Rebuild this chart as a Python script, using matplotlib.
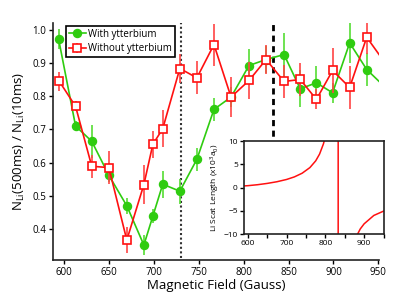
import matplotlib
matplotlib.use("Agg")
import matplotlib.pyplot as plt
from matplotlib.ticker import MultipleLocator

plt.rcParams["font.family"] = ["Open Sans", "DejaVu Sans"]
plt.rcParams["mathtext.fontset"] = "custom"
plt.rcParams["mathtext.rm"] = "Open Sans"
plt.rcParams["mathtext.it"] = "Open Sans"

# With ytterbium (green circles); last point lies just past the axis edge
field_yb = [594, 613, 631, 650, 670, 689, 699, 710, 729, 748, 767, 786, 806,
            825, 845, 863, 881, 899, 918, 937, 960]
ratio_yb = [0.973, 0.710, 0.664, 0.562, 0.470, 0.352, 0.439, 0.535, 0.514,
            0.610, 0.760, 0.797, 0.892, 0.910, 0.925, 0.822, 0.840, 0.810,
            0.960, 0.880, 0.820]
err_yb = [0.030, 0.015, 0.050, 0.020, 0.025, 0.030, 0.020, 0.040, 0.038,
          0.035, 0.035, 0.030, 0.050, 0.040, 0.065, 0.055, 0.050, 0.030,
          0.060, 0.050, 0.0]

# Without ytterbium (red open squares)
field_no = [595, 613, 631, 650, 670, 689, 699, 710, 729, 748, 767, 786, 806,
            825, 845, 863, 881, 899, 918, 937, 960]
ratio_no = [0.844, 0.769, 0.589, 0.585, 0.367, 0.534, 0.655, 0.702, 0.883,
            0.855, 0.955, 0.797, 0.847, 0.910, 0.844, 0.850, 0.790, 0.877,
            0.826, 0.977, 0.890]
err_no = [0.028, 0.015, 0.035, 0.050, 0.040, 0.058, 0.040, 0.055, 0.045,
          0.050, 0.063, 0.060, 0.055, 0.045, 0.050, 0.050, 0.030, 0.068,
          0.065, 0.050, 0.0]

# Reference field markers
b_dotted = 730
b_dashed = 833

# Inset: Li scattering length (x10^3 a0) vs field;
# the curve runs off-scale through the pole at 833 G
inset_b = [590, 600, 625, 650, 675, 700, 720, 740, 760, 775, 785, 795,
           800, 810, 833, 833, 880, 885, 890, 900, 925, 952]
inset_a = [0.35, 0.40, 0.61, 0.89, 1.25, 1.74, 2.29, 3.08, 4.29, 5.74,
           7.20, 9.40, 11.0, 16.2, 60.0, -60.0, -10.6, -9.7, -8.9, -7.8,
           -6.0, -5.0]

green = "#2fcc10"
red = "#ff1010"

fig = plt.figure(figsize=(4.15, 3.02), dpi=100)
ax = fig.add_axes([0.128, 0.139, 0.786, 0.785])

ax.axvline(b_dotted, ymin=0.01, ymax=1.0, color="#333333", lw=1.5,
           linestyle=(0, (1, 1.2)), zorder=1)
ax.axvline(b_dashed, ymin=0.3, ymax=1.0, color="black", lw=2.0,
           linestyle=(0, (2.2, 1.6)), zorder=1)

ax.errorbar(field_yb, ratio_yb, yerr=err_yb, color=green, ecolor="#55dd33",
            elinewidth=1.2, lw=1.2, marker="o", ms=5.8, mfc=green, mec=green,
            capsize=0, label="With ytterbium", zorder=3)
ax.errorbar(field_no, ratio_no, yerr=err_no, color=red, ecolor="#ff4444",
            elinewidth=1.2, lw=1.2, marker="s", ms=5.2, mfc="white", mec=red,
            mew=1.2, capsize=0, label="Without ytterbium", zorder=4)

ax.set_xlim(588, 951)
ax.set_ylim(0.307, 1.02)
ax.xaxis.set_major_locator(MultipleLocator(50))
ax.yaxis.set_major_locator(MultipleLocator(0.1))
ax.spines["top"].set_visible(False)
ax.spines["right"].set_visible(False)
for s in ("left", "bottom"):
    ax.spines[s].set_linewidth(1.2)
    ax.spines[s].set_color("#222222")
ax.tick_params(direction="out", length=3, width=1, labelsize=7, pad=2)
ax.set_xlabel("Magnetic Field (Gauss)", fontsize=9.5, labelpad=1)
ax.set_ylabel(r"N$_{\mathrm{Li}}$(500ms) / N$_{\mathrm{Li}}$(10ms)",
              fontsize=9.5, labelpad=4)

leg = ax.legend(loc="upper left", bbox_to_anchor=(0.03, 1.0), fontsize=7,
                frameon=True, fancybox=False, framealpha=1, borderpad=0.3,
                handlelength=1.8, handletextpad=0.2, labelspacing=0.35,
                borderaxespad=0.3)
leg.get_frame().set_edgecolor("black")
leg.get_frame().set_linewidth(1.2)

inset = fig.add_axes([0.588, 0.225, 0.338, 0.308])
inset.set_zorder(5)
inset.plot(inset_b, inset_a, color=red, lw=1.1)
inset.set_xlim(590, 952)
inset.set_ylim(-10, 10)
inset.xaxis.set_major_locator(MultipleLocator(100))
inset.xaxis.set_minor_locator(MultipleLocator(50))
inset.yaxis.set_major_locator(MultipleLocator(5))
for s in inset.spines.values():
    s.set_linewidth(1.2)
    s.set_color("#222222")
inset.tick_params(which="both", direction="out", length=3, width=1,
                  labelsize=6, pad=1.5)
inset.set_ylabel(r"Li Scat Length (x10$^{3}$a$_{0}$)", fontsize=6, labelpad=1)

fig.savefig("out.png", dpi=100)
